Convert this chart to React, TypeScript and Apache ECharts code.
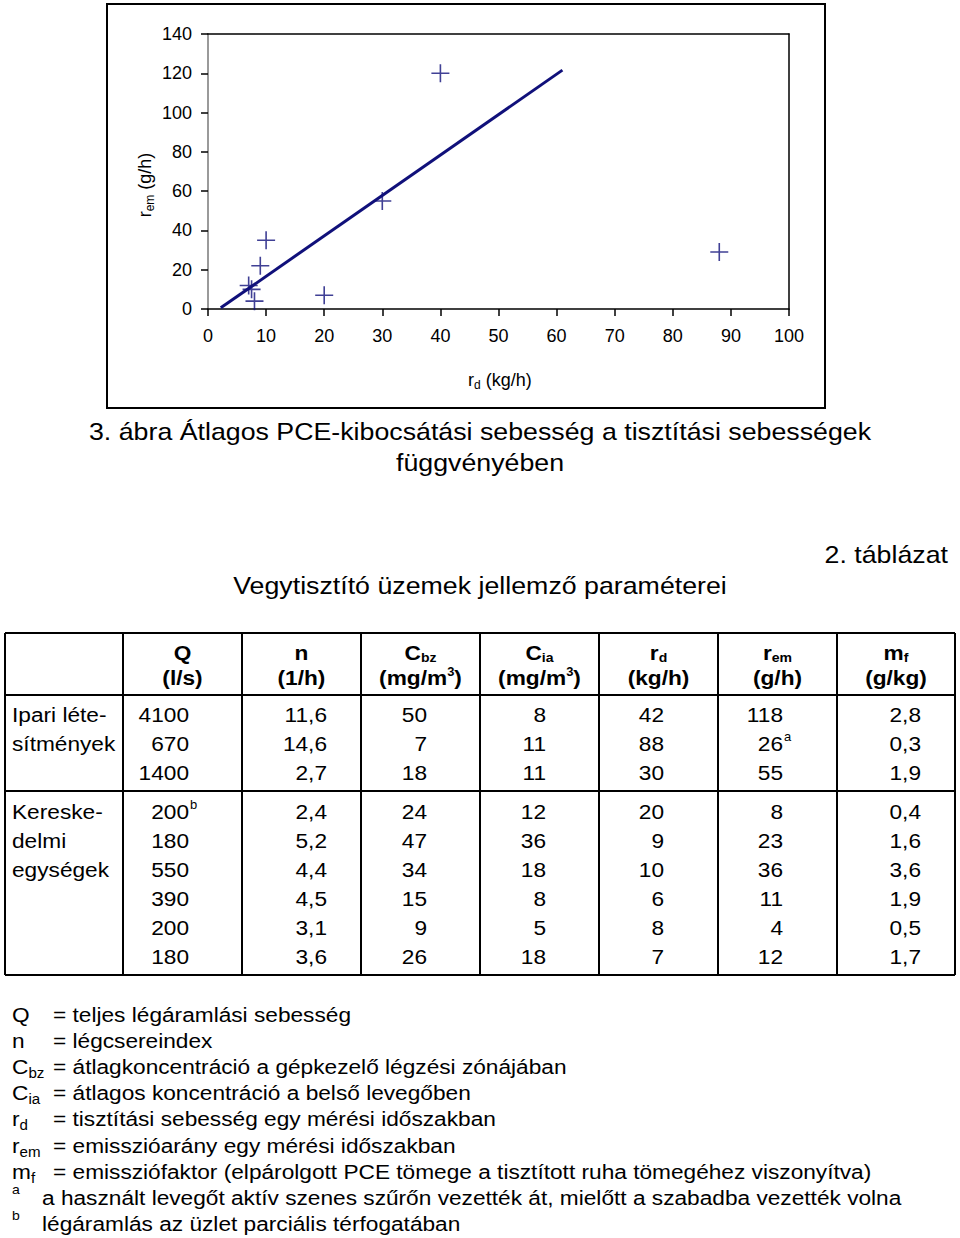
import React, { useEffect, useRef } from 'react';
import * as echarts from 'echarts';

// ---- chart data ----
const rdPlot = [40, 30, 88, 20, 10, 9, 7, 7.5, 8];
const remPlot = [120, 55, 29, 7, 35, 22, 12, 10, 4];
const trendRd = [2.2, 61];
const trendRem = [0.6, 121.6];

// ---- table data ----
const colQ = [4100, 670, 1400, 200, 180, 550, 390, 200, 180];
const colN = [11.6, 14.6, 2.7, 2.4, 5.2, 4.4, 4.5, 3.1, 3.6];
const colCbz = [50, 7, 18, 24, 47, 34, 15, 9, 26];
const colCia = [8, 11, 11, 12, 36, 18, 8, 5, 18];
const colRd = [42, 88, 30, 20, 9, 10, 6, 8, 7];
const colRem = [118, 26, 55, 8, 23, 36, 11, 4, 12];
const colMf = [2.8, 0.3, 1.9, 0.4, 1.6, 3.6, 1.9, 0.5, 1.7];
const groupIndustrial = ['Ipari léte-', 'sítmények'];
const groupCommercial = ['Kereske-', 'delmi', 'egységek'];

type Seg = [string, 'n' | 'sub' | 'sup'];
const headers: Seg[][][] = [
  [[['Q', 'n']], [['(l/s)', 'n']]],
  [[['n', 'n']], [['(1/h)', 'n']]],
  [[['C', 'n'], ['bz', 'sub']], [['(mg/m', 'n'], ['3', 'sup'], [')', 'n']]],
  [[['C', 'n'], ['ia', 'sub']], [['(mg/m', 'n'], ['3', 'sup'], [')', 'n']]],
  [[['r', 'n'], ['d', 'sub']], [['(kg/h)', 'n']]],
  [[['r', 'n'], ['em', 'sub']], [['(g/h)', 'n']]],
  [[['m', 'n'], ['f', 'sub']], [['(g/kg)', 'n']]],
];

const legendSymbols: Seg[][] = [
  [['Q', 'n']],
  [['n', 'n']],
  [['C', 'n'], ['bz', 'sub']],
  [['C', 'n'], ['ia', 'sub']],
  [['r', 'n'], ['d', 'sub']],
  [['r', 'n'], ['em', 'sub']],
  [['m', 'n'], ['f', 'sub']],
];
const legendTexts = [
  '= teljes légáramlási sebesség',
  '= légcsereindex',
  '= átlagkoncentráció a gépkezelő légzési zónájában',
  '= átlagos koncentráció a belső levegőben',
  '= tisztítási sebesség egy mérési időszakban',
  '= emisszióarány egy mérési időszakban',
  '= emissziófaktor (elpárolgott PCE tömege a tisztított ruha tömegéhez viszonyítva)',
];
const footnotes: [string, string][] = [
  ['a', 'a használt levegőt aktív szenes szűrőn vezették át, mielőtt a szabadba vezették volna'],
  ['b', 'légáramlás az üzlet parciális térfogatában'],
];

const FF = '"Liberation Sans", Arial, Helvetica, sans-serif';
const INK = '#000';
const NAVY = '#10107a';
const SX_BODY = 1.08;
const SX_TITLE = 1.115;

let _ctx: CanvasRenderingContext2D | null = null;
function tw(text: string, size: number, weight = 'normal') {
  if (!_ctx) _ctx = document.createElement('canvas').getContext('2d');
  _ctx!.font = `${weight} ${size}px "Liberation Sans"`;
  return _ctx!.measureText(text).width;
}

function txt(text: string, x: number, y: number, size: number, o: any = {}) {
  return {
    type: 'text',
    x,
    y,
    scaleX: o.sx ?? 1,
    silent: true,
    style: {
      text,
      fontSize: size,
      fontFamily: FF,
      fontWeight: o.weight || 'normal',
      fill: INK,
      align: o.align || 'left',
      verticalAlign: 'middle',
    },
  };
}

function segs(list: Seg[], x: number, y: number, size: number, o: any = {}) {
  const weight = o.weight || 'normal';
  const sx = o.sx ?? 1;
  const small = o.small || Math.round(size * 0.62);
  const subDy = o.subDy ?? size * 0.28;
  const supDy = o.supDy ?? -size * 0.3;
  const widths = list.map(([t, k]) => tw(t, k === 'n' ? size : small, weight) * sx);
  const total = widths.reduce((a, b) => a + b, 0);
  let cx = o.align === 'center' ? x - total / 2 : o.align === 'right' ? x - total : x;
  const out: any[] = [];
  list.forEach(([t, k], i) => {
    const fs = k === 'n' ? size : small;
    const dy = k === 'sub' ? subDy : k === 'sup' ? supDy : 0;
    out.push(txt(t, cx, y + dy, fs, { weight, sx }));
    cx += widths[i];
  });
  return out;
}

function fmt(v: number, dec: number) {
  return dec ? v.toFixed(dec).replace('.', ',') : String(v);
}

function buildGraphic() {
  const g: any[] = [];
  // chart frame
  g.push({
    type: 'rect',
    silent: true,
    shape: { x: 107, y: 4, width: 718, height: 404 },
    style: { fill: 'none', stroke: INK, lineWidth: 2 },
  });
  // axis names
  g.push(...segs([['r', 'n'], ['d', 'sub']], 468, 380, 18, { small: 12 }));
  g.push(txt(' (kg/h)', 468 + tw('r', 18) + tw('d', 12), 380, 18));
  g.push({
    type: 'group',
    x: 145,
    y: 185,
    rotation: Math.PI / 2,
    children: segs([['r', 'n'], ['em', 'sub'], [' (g/h)', 'n']], 0, 0, 18, { align: 'center', small: 12 }),
  });
  // caption & titles
  g.push(txt('3. ábra Átlagos PCE-kibocsátási sebesség a tisztítási sebességek', 480, 432, 24, { align: 'center', sx: SX_TITLE }));
  g.push(txt('függvényében', 480, 463, 24, { align: 'center', sx: SX_TITLE }));
  g.push(txt('2. táblázat', 948, 555, 24, { align: 'right', sx: SX_TITLE }));
  g.push(txt('Vegytisztító üzemek jellemző paraméterei', 480, 586, 24, { align: 'center', sx: SX_TITLE }));

  // table grid
  const colX = [5, 123, 242, 361, 480, 599, 718, 837, 955];
  const rowY = [633, 695, 791, 975];
  colX.forEach((x) =>
    g.push({ type: 'line', silent: true, shape: { x1: x, y1: 633, x2: x, y2: 975 }, style: { stroke: INK, lineWidth: 2 } })
  );
  rowY.forEach((y) =>
    g.push({ type: 'line', silent: true, shape: { x1: 5, y1: y, x2: 955, y2: y }, style: { stroke: INK, lineWidth: 2 } })
  );
  // headers
  headers.forEach((h, i) => {
    const cx = (colX[i + 1] + colX[i + 2]) / 2;
    g.push(...segs(h[0], cx, 653, 21, { align: 'center', weight: 'bold', small: 13, subDy: 5, sx: SX_BODY }));
    g.push(...segs(h[1], cx, 678, 21, { align: 'center', weight: 'bold', small: 12, supDy: -6, sx: SX_BODY }));
  });
  // data
  const dataY = [715, 744, 773, 812, 841, 870, 899, 928, 957];
  const cols: [number[], number, number][] = [
    [colQ, 0, 189],
    [colN, 1, 327],
    [colCbz, 0, 427],
    [colCia, 0, 546],
    [colRd, 0, 664],
    [colRem, 0, 783],
    [colMf, 1, 921],
  ];
  cols.forEach(([arr, dec, rx], ci) => {
    arr.forEach((v, ri) => {
      g.push(txt(fmt(v, dec), rx, dataY[ri], 21, { align: 'right', sx: SX_BODY }));
      if (ci === 0 && ri === 3) g.push(txt('b', rx + 1, dataY[ri] - 7, 12, { sx: SX_BODY }));
      if (ci === 5 && ri === 1) g.push(txt('a', rx + 1, dataY[ri] - 7, 12, { sx: SX_BODY }));
    });
  });
  groupIndustrial.forEach((t, i) => g.push(txt(t, 12, dataY[i], 21, { sx: SX_BODY })));
  groupCommercial.forEach((t, i) => g.push(txt(t, 12, dataY[3 + i], 21, { sx: SX_BODY })));

  // legend
  const legY = [1015, 1041, 1067, 1093, 1119, 1146, 1172, 1198, 1224];
  legendSymbols.forEach((s, i) => {
    g.push(...segs(s, 12, legY[i], 21, { small: 14, subDy: 6, sx: SX_BODY }));
    g.push(txt(legendTexts[i], 53, legY[i], 21, { sx: SX_BODY }));
  });
  footnotes.forEach(([m, t], i) => {
    g.push(txt(m, 12, legY[7 + i] - 8, 13, { sx: SX_BODY }));
    g.push(txt(t, 42, legY[7 + i], 21, { sx: SX_BODY }));
  });
  return g;
}

export default function App() {
  const ref = useRef<HTMLDivElement>(null);
  useEffect(() => {
    if (!ref.current) return;
    const chart = echarts.init(ref.current, undefined, { renderer: 'svg' });
    const axisText = { color: INK, fontSize: 18, fontFamily: FF };
    chart.setOption({
      animation: false,
      backgroundColor: '#fff',
      textStyle: { fontFamily: FF },
      grid: { left: 208, top: 34, width: 581, height: 275, containLabel: false },
      xAxis: [
        {
          type: 'value',
          min: 0,
          max: 100,
          interval: 10,
          axisLine: { show: true, onZero: false, lineStyle: { color: INK, width: 1.5 } },
          axisTick: { show: true, length: 7, lineStyle: { color: INK, width: 1.5 } },
          axisLabel: { ...axisText, margin: 18 },
          splitLine: { show: false },
        },
        {
          type: 'value',
          position: 'top',
          min: 0,
          max: 100,
          axisLine: { show: true, onZero: false, lineStyle: { color: INK, width: 1.5 } },
          axisTick: { show: false },
          axisLabel: { show: false },
          splitLine: { show: false },
        },
      ],
      yAxis: [
        {
          type: 'value',
          min: 0,
          max: 140,
          interval: 20,
          axisLine: { show: true, onZero: false, lineStyle: { color: '#9a9a9a', width: 2 } },
          axisTick: { show: true, length: 7, lineStyle: { color: INK, width: 1.5 } },
          axisLabel: { ...axisText, margin: 16 },
          splitLine: { show: false },
        },
        {
          type: 'value',
          position: 'right',
          min: 0,
          max: 140,
          axisLine: { show: true, onZero: false, lineStyle: { color: INK, width: 1.5 } },
          axisTick: { show: false },
          axisLabel: { show: false },
          splitLine: { show: false },
        },
      ],
      series: [
        {
          type: 'line',
          data: trendRd.map((x, i) => [x, trendRem[i]]),
          symbol: 'none',
          lineStyle: { color: NAVY, width: 3 },
          silent: true,
        },
        {
          type: 'scatter',
          data: rdPlot.map((x, i) => [x, remPlot[i]]),
          symbol: 'path://M9,0L9,18M0,9L18,9',
          symbolSize: 18,
          itemStyle: { color: 'transparent', borderColor: NAVY, borderWidth: 1.6 },
          silent: true,
        },
      ],
      graphic: { elements: buildGraphic() },
    });
    return () => chart.dispose();
  }, []);
  return <div ref={ref} style={{ position: 'absolute', left: 0, top: 0, width: 960, height: 1238 }} />;
}
